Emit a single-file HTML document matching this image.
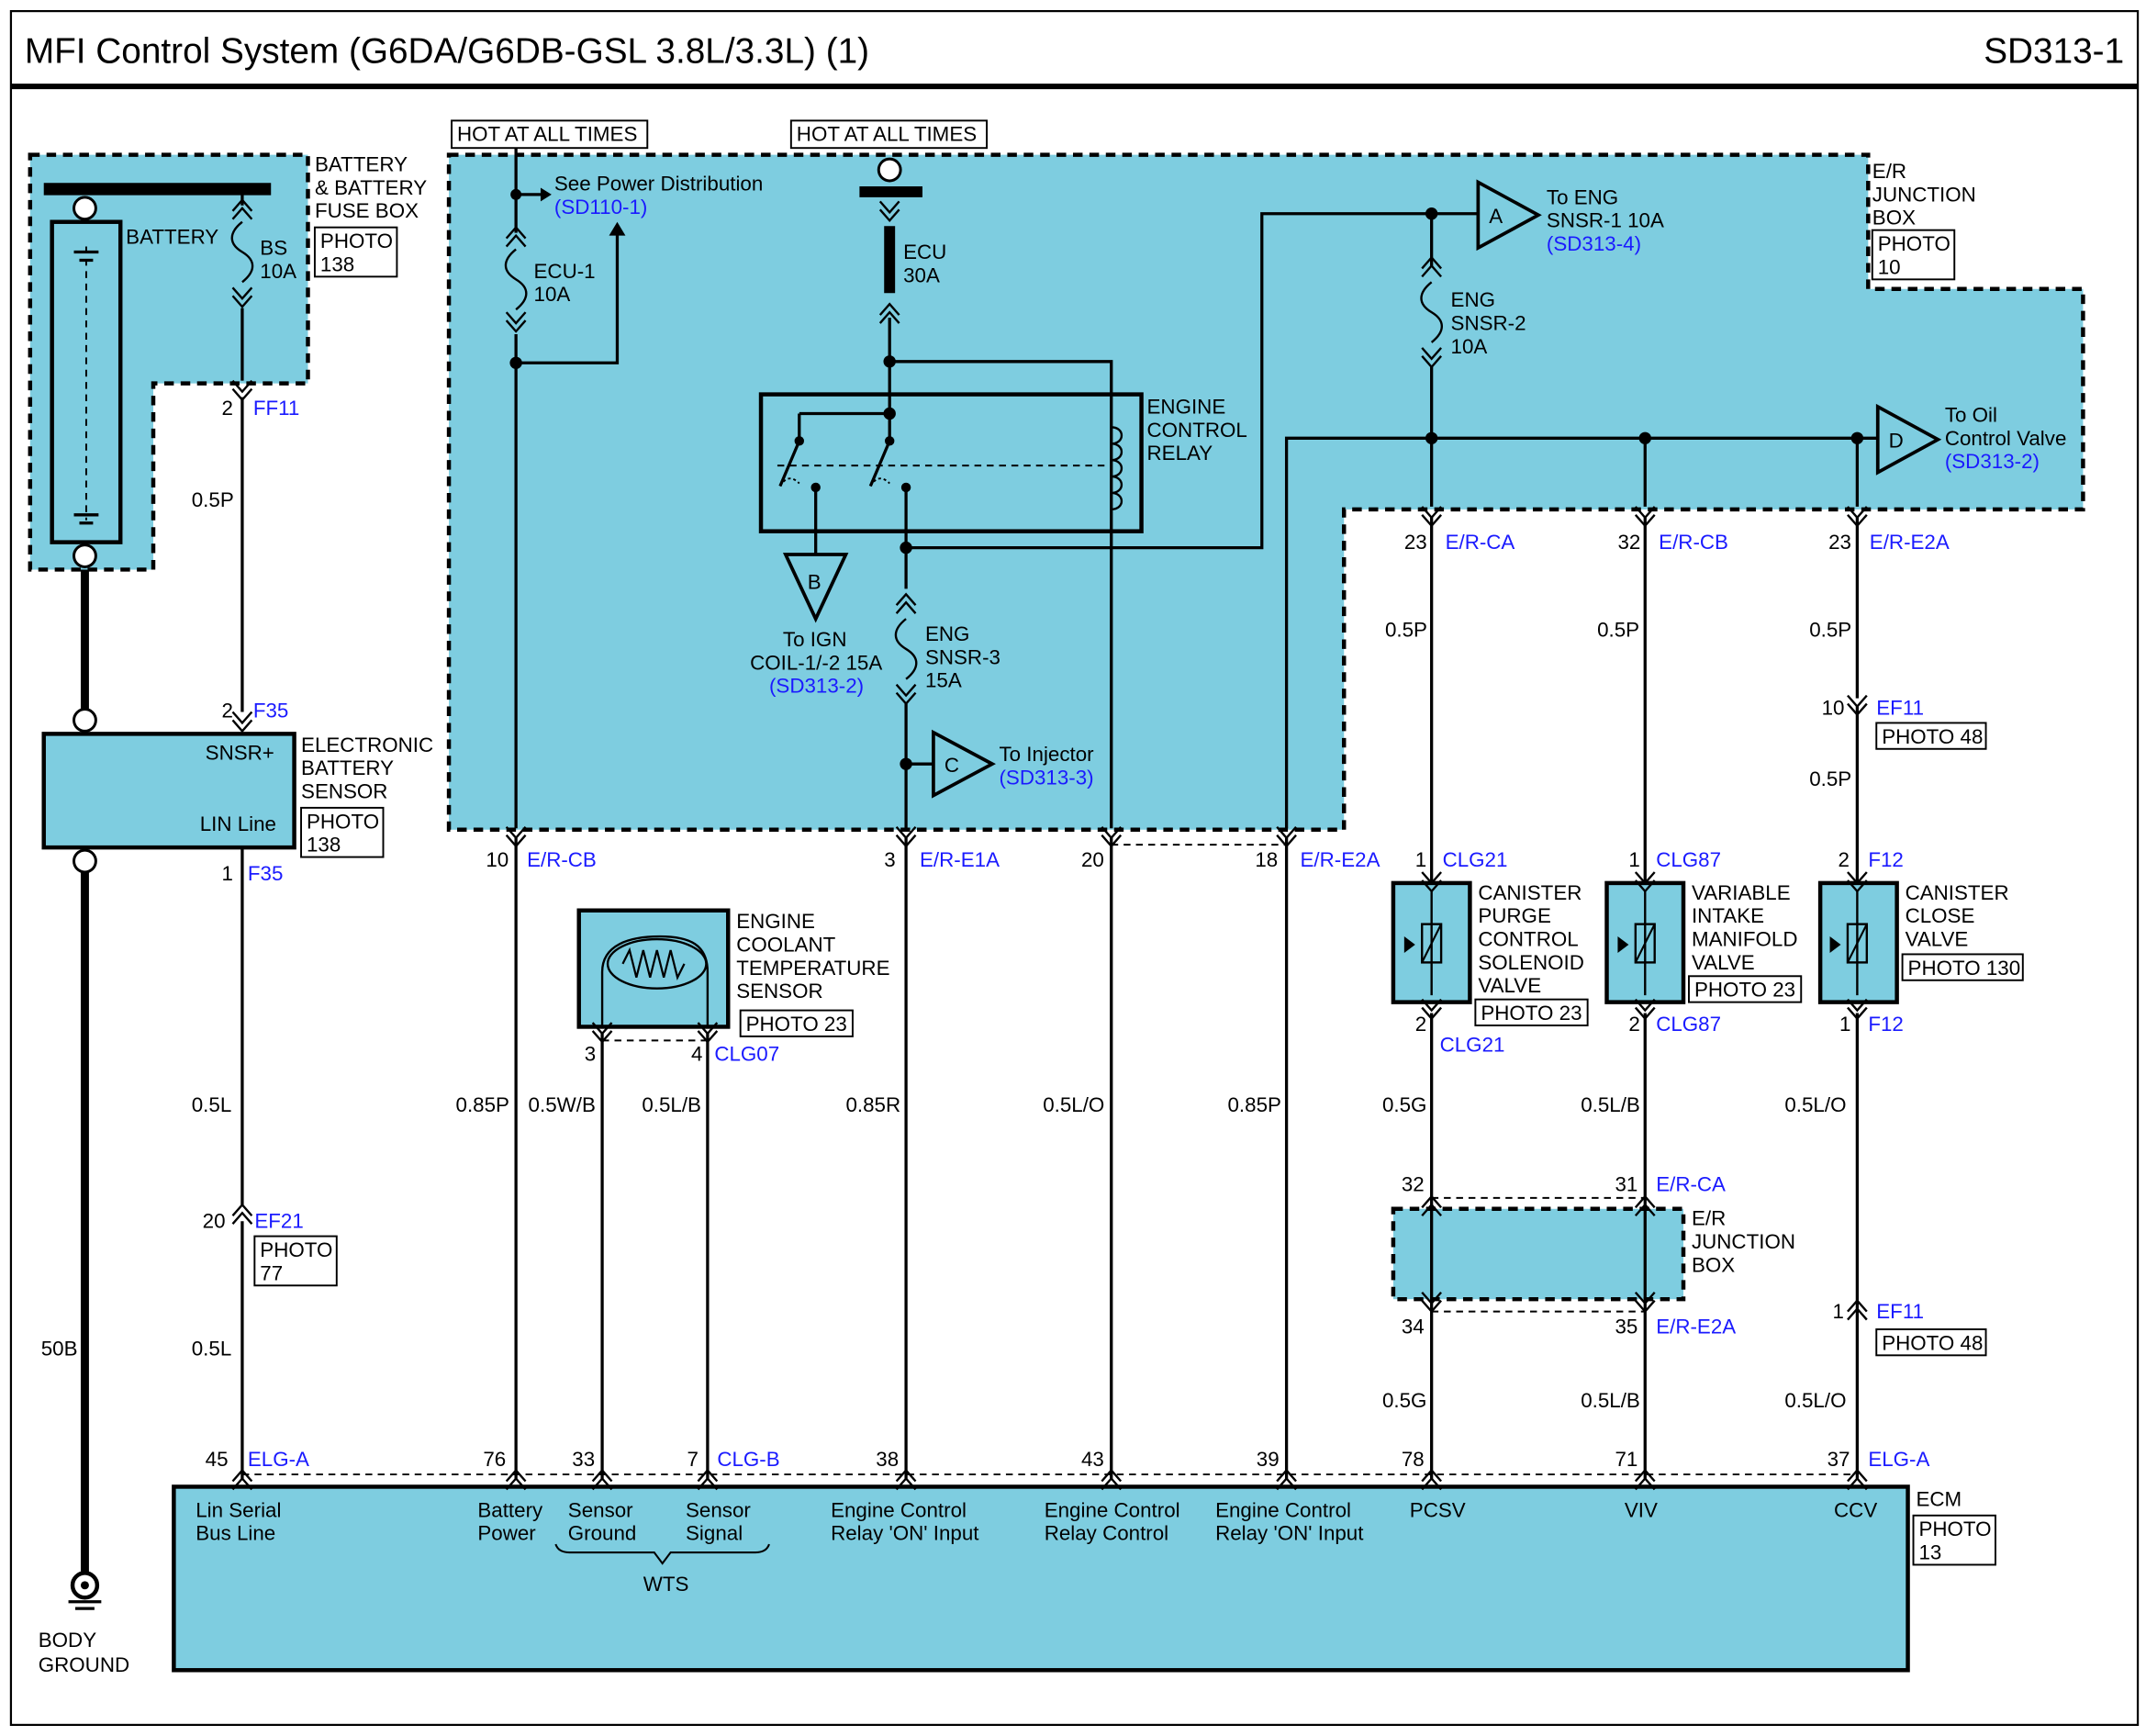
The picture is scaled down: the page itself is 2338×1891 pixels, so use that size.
<!DOCTYPE html>
<html><head><meta charset="utf-8"><style>
html,body{margin:0;padding:0;background:#fff}
svg{display:block}
text{font-family:"Liberation Sans",Arial,sans-serif;font-size:15px;fill:#000}
.b{fill:#1a1aff}
.w{stroke:#000;stroke-width:2.2;fill:none}
.d{stroke:#000;stroke-width:1.3;fill:none;stroke-dasharray:5,4}
.sh{fill:#7ecde0;stroke:#000;stroke-width:3;stroke-dasharray:7,5}
.bx{fill:#7ecde0;stroke:#000;stroke-width:3}
.lb{fill:#fff;stroke:#000;stroke-width:1.3}
</style></head><body>
<svg width="2338" height="1891" viewBox="0 0 1568 1268" xmlns="http://www.w3.org/2000/svg">
<defs>
<g id="vd"><path d="M-7,-8 L0,0 L7,-8 M-7,-2 L0,6 L7,-2" class="w" style="stroke-width:1.6"/></g>
<g id="vu"><path d="M-7,8 L0,0 L7,8 M-7,2 L0,-6 L7,2" class="w" style="stroke-width:1.6"/></g>
<g id="fuse"><path d="M0,0 C-10,8 -10,16 0,22 C10,28 10,36 0,44" class="w" style="stroke-width:1.6"/></g>
</defs>
<rect x="8" y="8" width="1554" height="1252" fill="#fff" stroke="#000" stroke-width="1.5"/>
<text x="18" y="46" style="font-size:26px">MFI Control System (G6DA/G6DB-GSL 3.8L/3.3L) (1)</text>
<text x="1552" y="46" text-anchor="end" style="font-size:26px">SD313-1</text>
<line x1="8" y1="63" x2="1562" y2="63" stroke="#000" stroke-width="4"/>

<!-- shaded areas -->
<path class="sh" d="M22,113 H225 V280 H112 V416 H22 Z"/>
<path class="sh" d="M328,113 H1365 V211 H1522 V372 H982 V606 H328 Z"/>
<rect class="sh" x="1018" y="883" width="212" height="66"/>
<rect class="bx" x="32" y="536" width="183" height="83"/>
<rect class="bx" x="127" y="1086" width="1267" height="134"/>
<rect class="bx" x="423" y="665" width="109" height="85"/>
<rect class="bx" x="1018" y="645" width="56" height="87"/>
<rect class="bx" x="1174" y="645" width="56" height="87"/>
<rect class="bx" x="1330" y="645" width="56" height="87"/>

<!-- battery -->
<line x1="32" y1="138" x2="198" y2="138" stroke="#000" stroke-width="9"/>
<rect x="38" y="162" width="50" height="234" fill="none" stroke="#000" stroke-width="3"/>
<line x1="63" y1="180" x2="63" y2="380" class="d"/>
<line x1="54" y1="184" x2="72" y2="184" class="w"/><line x1="58" y1="190" x2="68" y2="190" class="w"/>
<line x1="54" y1="376" x2="72" y2="376" class="w"/><line x1="58" y1="382" x2="68" y2="382" class="w"/>
<circle cx="62" cy="152" r="8" fill="#fff" stroke="#000" stroke-width="2"/>
<circle cx="62" cy="406" r="8" fill="#fff" stroke="#000" stroke-width="2"/>
<line x1="62" y1="416" x2="62" y2="518" stroke="#000" stroke-width="6"/>
<circle cx="62" cy="526" r="8" fill="#fff" stroke="#000" stroke-width="2"/>
<circle cx="62" cy="629" r="8" fill="#fff" stroke="#000" stroke-width="2"/>
<line x1="62" y1="637" x2="62" y2="1150" stroke="#000" stroke-width="6"/>
<circle cx="62" cy="1158" r="9" fill="#fff" stroke="#000" stroke-width="3"/><circle cx="62" cy="1158" r="3"/>
<line x1="50" y1="1170" x2="74" y2="1170" class="w"/><line x1="55" y1="1175" x2="69" y2="1175" class="w"/>
<text x="28" y="1203">BODY</text><text x="28" y="1221">GROUND</text>
<text x="30" y="990">50B</text>
<text x="92" y="178">BATTERY</text>
<text x="230" y="125">BATTERY</text><text x="230" y="142">&amp; BATTERY</text><text x="230" y="159">FUSE BOX</text>
<rect class="lb" x="230" y="166" width="60" height="36"/><text x="234" y="181">PHOTO</text><text x="234" y="198">138</text>

<!-- BS fuse line x=177 -->
<line x1="177" y1="138" x2="177" y2="150" class="w"/>
<use href="#vu" x="177" y="152"/>
<use href="#fuse" x="177" y="162"/>
<use href="#vd" x="177" y="218"/>
<line x1="177" y1="225" x2="177" y2="278" class="w"/>
<text x="190" y="186">BS</text><text x="190" y="203">10A</text>
<use href="#vd" x="177" y="286"/>
<line x1="177" y1="290" x2="177" y2="520" class="w"/>
<text x="162" y="303">2</text><text x="185" y="303" class="b">FF11</text>
<text x="140" y="370">0.5P</text>
<use href="#vd" x="177" y="528"/>
<text x="162" y="524">2</text><text x="185" y="524" class="b">F35</text>
<text x="150" y="555">SNSR+</text><text x="146" y="607">LIN Line</text>
<text x="220" y="549">ELECTRONIC</text><text x="220" y="566">BATTERY</text><text x="220" y="583">SENSOR</text>
<rect class="lb" x="220" y="590" width="60" height="36"/><text x="224" y="605">PHOTO</text><text x="224" y="622">138</text>
<line x1="177" y1="619" x2="177" y2="880" class="w"/>
<text x="162" y="643">1</text><text x="181" y="643" class="b">F35</text>
<text x="140" y="812">0.5L</text>
<use href="#vu" x="177" y="886"/>
<line x1="177" y1="892" x2="177" y2="1080" class="w"/>
<text x="148" y="897">20</text><text x="186" y="897" class="b">EF21</text>
<rect class="lb" x="186" y="903" width="60" height="36"/><text x="190" y="918">PHOTO</text><text x="190" y="935">77</text>
<text x="140" y="990">0.5L</text>
<use href="#vu" x="177" y="1080"/>
<text x="150" y="1071">45</text><text x="181" y="1071" class="b">ELG-A</text>

<!-- hot at all times -->
<rect class="lb" x="330" y="88" width="143" height="20"/><text x="334" y="103">HOT AT ALL TIMES</text>
<rect class="lb" x="578" y="88" width="143" height="20"/><text x="582" y="103">HOT AT ALL TIMES</text>

<!-- ECU-1 line x=377 -->
<line x1="377" y1="108" x2="377" y2="170" class="w"/>
<circle cx="377" cy="142" r="4"/>
<line x1="377" y1="142" x2="395" y2="142" class="w"/><path d="M395,137 L403,142 L395,147Z"/>
<text x="405" y="139">See Power Distribution</text><text x="405" y="156" class="b">(SD110-1)</text>
<use href="#vu" x="377" y="172"/>
<use href="#fuse" x="377" y="182"/>
<use href="#vd" x="377" y="236"/>
<text x="390" y="203">ECU-1</text><text x="390" y="220">10A</text>
<line x1="377" y1="244" x2="377" y2="605" class="w"/>
<circle cx="377" cy="265" r="4.5"/>
<path d="M377,265 H451 V170" class="w"/><path d="M445,172 L451,162 L457,172Z"/>
<use href="#vd" x="377" y="612"/>
<line x1="377" y1="612" x2="377" y2="1080" class="w"/>
<text x="355" y="633">10</text><text x="385" y="633" class="b">E/R-CB</text>
<text x="333" y="812">0.85P</text>
<use href="#vu" x="377" y="1080"/><text x="353" y="1071">76</text>

<!-- ECU 30A x=650 -->
<circle cx="650" cy="124" r="8" fill="#fff" stroke="#000" stroke-width="2"/>
<line x1="628" y1="140" x2="674" y2="140" stroke="#000" stroke-width="8"/>
<use href="#vd" x="650" y="155"/>
<line x1="650" y1="165" x2="650" y2="214" stroke="#000" stroke-width="8"/>
<use href="#vu" x="650" y="228"/>
<text x="660" y="189">ECU</text><text x="660" y="206">30A</text>
<line x1="650" y1="232" x2="650" y2="302" class="w"/>
<circle cx="650" cy="264" r="4.5"/>
<path d="M650,264 H812 V605" class="w"/>
<!-- relay -->
<rect x="556" y="288" width="278" height="100" fill="none" stroke="#000" stroke-width="3"/>
<circle cx="650" cy="302" r="4.5"/>
<path d="M584,302 H650 M584,302 V322 L570,355 M650,302 V322 L636,355" class="w"/>
<circle cx="584" cy="322" r="3.5"/><circle cx="650" cy="322" r="3.5"/>
<circle cx="596" cy="356" r="3.5"/><circle cx="662" cy="356" r="3.5"/>
<path d="M570,355 q6,-10 14,-2 M636,355 q6,-10 14,-2" class="d" style="stroke-dasharray:2,2"/>
<line x1="568" y1="340" x2="810" y2="340" class="d"/>
<path d="M812,312 c10,0 10,12 0,12 c10,0 10,12 0,12 c10,0 10,12 0,12 c10,0 10,12 0,12 c10,0 10,12 0,12" class="w" style="stroke-width:1.6"/>
<text x="838" y="302">ENGINE</text><text x="838" y="319">CONTROL</text><text x="838" y="336">RELAY</text>
<line x1="596" y1="356" x2="596" y2="405" class="w"/>
<path d="M574,405 L618,405 L596,452Z" fill="none" stroke="#000" stroke-width="2.5"/><text x="590" y="430">B</text>
<text x="572" y="472">To IGN</text><text x="548" y="489">COIL-1/-2 15A</text><text x="562" y="506" class="b">(SD313-2)</text>
<line x1="662" y1="356" x2="662" y2="430" class="w"/>
<circle cx="662" cy="400" r="4.5"/>
<path d="M662,400 H922 V156 H1046" class="w"/>
<use href="#vu" x="662" y="440"/>
<use href="#fuse" x="662" y="452"/>
<use href="#vd" x="662" y="508"/>
<text x="676" y="468">ENG</text><text x="676" y="485">SNSR-3</text><text x="676" y="502">15A</text>
<line x1="662" y1="514" x2="662" y2="605" class="w"/>
<circle cx="662" cy="558" r="4.5"/>
<path d="M662,558 H682" class="w"/>
<path d="M682,535 L682,581 L725,558Z" fill="none" stroke="#000" stroke-width="2.5"/><text x="690" y="564">C</text>
<text x="730" y="556">To Injector</text><text x="730" y="573" class="b">(SD313-3)</text>
<use href="#vd" x="662" y="612"/>
<line x1="662" y1="612" x2="662" y2="1080" class="w"/>
<text x="646" y="633">3</text><text x="672" y="633" class="b">E/R-E1A</text>
<text x="618" y="812">0.85R</text>
<use href="#vu" x="662" y="1080"/><text x="640" y="1071">38</text>

<!-- 812 -->
<use href="#vd" x="812" y="612"/>
<line x1="812" y1="612" x2="812" y2="1080" class="w"/>
<line x1="812" y1="617" x2="940" y2="617" class="d"/>
<text x="790" y="633">20</text>
<text x="762" y="812">0.5L/O</text>
<use href="#vu" x="812" y="1080"/><text x="790" y="1071">43</text>

<!-- 940 -->
<path d="M940,605 V320 H1357" class="w"/>
<use href="#vd" x="940" y="612"/>
<line x1="940" y1="612" x2="940" y2="1080" class="w"/>
<text x="917" y="633">18</text><text x="950" y="633" class="b">E/R-E2A</text>
<text x="897" y="812">0.85P</text>
<use href="#vu" x="940" y="1080"/><text x="918" y="1071">39</text>

<!-- A -->
<circle cx="1046" cy="156" r="4.5"/>
<path d="M1046,156 H1080" class="w"/>
<path d="M1080,133 L1080,181 L1124,157Z" fill="none" stroke="#000" stroke-width="2.5"/><text x="1088" y="163">A</text>
<text x="1130" y="149">To ENG</text><text x="1130" y="166">SNSR-1 10A</text><text x="1130" y="183" class="b">(SD313-4)</text>
<text x="1368" y="130">E/R</text><text x="1368" y="147">JUNCTION</text><text x="1368" y="164">BOX</text>
<rect class="lb" x="1368" y="168" width="60" height="36"/><text x="1372" y="183">PHOTO</text><text x="1372" y="200">10</text>
<use href="#vu" x="1046" y="194"/>
<use href="#fuse" x="1046" y="206"/>
<use href="#vd" x="1046" y="262"/>
<text x="1060" y="224">ENG</text><text x="1060" y="241">SNSR-2</text><text x="1060" y="258">10A</text>
<line x1="1046" y1="156" x2="1046" y2="194" class="w"/>
<line x1="1046" y1="268" x2="1046" y2="370" class="w"/>
<circle cx="1046" cy="320" r="4.5"/><circle cx="1202" cy="320" r="4.5"/><circle cx="1357" cy="320" r="4.5"/>
<path d="M1357,320 H1372" class="w"/>
<path d="M1372,297 L1372,345 L1416,321Z" fill="none" stroke="#000" stroke-width="2.5"/><text x="1380" y="327">D</text>
<text x="1421" y="308">To Oil</text><text x="1421" y="325">Control Valve</text><text x="1421" y="342" class="b">(SD313-2)</text>
<line x1="1202" y1="320" x2="1202" y2="370" class="w"/>
<line x1="1357" y1="320" x2="1357" y2="370" class="w"/>

<!-- right wires -->
<g>
<use href="#vd" x="1046" y="378"/><use href="#vd" x="1202" y="378"/><use href="#vd" x="1357" y="378"/>
<line x1="1046" y1="378" x2="1046" y2="645" class="w"/>
<line x1="1202" y1="378" x2="1202" y2="645" class="w"/>
<line x1="1357" y1="378" x2="1357" y2="510" class="w"/>
<text x="1026" y="401">23</text><text x="1056" y="401" class="b">E/R-CA</text>
<text x="1182" y="401">32</text><text x="1212" y="401" class="b">E/R-CB</text>
<text x="1336" y="401">23</text><text x="1366" y="401" class="b">E/R-E2A</text>
<text x="1012" y="465">0.5P</text><text x="1167" y="465">0.5P</text><text x="1322" y="465">0.5P</text>
<use href="#vd" x="1357" y="516"/>
<line x1="1357" y1="516" x2="1357" y2="645" class="w"/>
<text x="1331" y="522">10</text><text x="1371" y="522" class="b">EF11</text>
<rect class="lb" x="1371" y="528" width="80" height="19"/><text x="1375" y="543">PHOTO 48</text>
<text x="1322" y="574">0.5P</text>
<text x="1034" y="633">1</text><text x="1054" y="633" class="b">CLG21</text>
<text x="1190" y="633">1</text><text x="1210" y="633" class="b">CLG87</text>
<text x="1343" y="633">2</text><text x="1365" y="633" class="b">F12</text>
</g>
<!-- valve internals -->
<g id="valve">
<use href="#vd" x="1046" y="645"/>
<line x1="1046" y1="650" x2="1046" y2="727" class="w" style="stroke-width:1.6"/>
<rect x="1039" y="675" width="14" height="28" fill="none" stroke="#000" stroke-width="1.6"/>
<line x1="1039" y1="703" x2="1053" y2="675" class="w" style="stroke-width:1.4"/>
<path d="M1026,684 L1034,690 L1026,696Z"/>
<use href="#vd" x="1046" y="738"/>
</g>
<use href="#valve" x="156"/><use href="#valve" x="311"/>
<text x="1080" y="657">CANISTER</text><text x="1080" y="674">PURGE</text><text x="1080" y="691">CONTROL</text><text x="1080" y="708">SOLENOID</text><text x="1080" y="725">VALVE</text>
<rect class="lb" x="1078" y="730" width="82" height="19"/><text x="1082" y="745">PHOTO 23</text>
<text x="1236" y="657">VARIABLE</text><text x="1236" y="674">INTAKE</text><text x="1236" y="691">MANIFOLD</text><text x="1236" y="708">VALVE</text>
<rect class="lb" x="1234" y="713" width="82" height="19"/><text x="1238" y="728">PHOTO 23</text>
<text x="1392" y="657">CANISTER</text><text x="1392" y="674">CLOSE</text><text x="1392" y="691">VALVE</text>
<rect class="lb" x="1390" y="697" width="88" height="19"/><text x="1394" y="712">PHOTO 130</text>
<text x="1034" y="753">2</text><text x="1190" y="753">2</text><text x="1344" y="753">1</text>
<text x="1052" y="768" class="b">CLG21</text><text x="1210" y="753" class="b">CLG87</text><text x="1365" y="753" class="b">F12</text>
<line x1="1046" y1="740" x2="1046" y2="1080" class="w"/>
<line x1="1202" y1="740" x2="1202" y2="1080" class="w"/>
<line x1="1357" y1="740" x2="1357" y2="1080" class="w"/>
<text x="1010" y="812">0.5G</text><text x="1155" y="812">0.5L/B</text><text x="1304" y="812">0.5L/O</text>
<use href="#vu" x="1046" y="880"/><use href="#vu" x="1202" y="880"/>
<use href="#vd" x="1046" y="952"/><use href="#vd" x="1202" y="952"/>
<line x1="1046" y1="875" x2="1202" y2="875" class="d"/><line x1="1046" y1="958" x2="1202" y2="958" class="d"/>
<text x="1024" y="870">32</text><text x="1180" y="870">31</text><text x="1210" y="870" class="b">E/R-CA</text>
<text x="1024" y="974">34</text><text x="1180" y="974">35</text><text x="1210" y="974" class="b">E/R-E2A</text>
<text x="1236" y="895">E/R</text><text x="1236" y="912">JUNCTION</text><text x="1236" y="929">BOX</text>
<text x="1010" y="1028">0.5G</text><text x="1155" y="1028">0.5L/B</text><text x="1304" y="1028">0.5L/O</text>
<use href="#vu" x="1357" y="956"/>
<text x="1339" y="963">1</text><text x="1371" y="963" class="b">EF11</text>
<rect class="lb" x="1371" y="971" width="80" height="19"/><text x="1375" y="986">PHOTO 48</text>
<use href="#vu" x="1046" y="1080"/><use href="#vu" x="1202" y="1080"/><use href="#vu" x="1357" y="1080"/>
<text x="1024" y="1071">78</text><text x="1180" y="1071">71</text><text x="1335" y="1071">37</text><text x="1365" y="1071" class="b">ELG-A</text>

<!-- coolant sensor -->
<path d="M440,750 V710 M440,710 C440,690 460,684 482,684 C504,684 517,690 517,710 V750" class="w" style="stroke-width:1.6"/>
<ellipse cx="480" cy="704" rx="36" ry="18" fill="none" stroke="#000" stroke-width="1.6"/>
<path d="M455,704 l5,-10 l5,20 l5,-20 l5,20 l5,-20 l5,20 l5,-20 l5,20 l5,-10" class="w" style="stroke-width:1.5"/>
<text x="538" y="678">ENGINE</text><text x="538" y="695">COOLANT</text><text x="538" y="712">TEMPERATURE</text><text x="538" y="729">SENSOR</text>
<rect class="lb" x="541" y="738" width="82" height="19"/><text x="545" y="753">PHOTO 23</text>
<use href="#vd" x="440" y="755"/><use href="#vd" x="517" y="755"/>
<line x1="440" y1="760" x2="517" y2="760" class="d"/>
<text x="427" y="775">3</text><text x="505" y="775">4</text><text x="522" y="775" class="b">CLG07</text>
<line x1="440" y1="755" x2="440" y2="1080" class="w"/><line x1="517" y1="755" x2="517" y2="1080" class="w"/>
<text x="386" y="812">0.5W/B</text><text x="469" y="812">0.5L/B</text>
<use href="#vu" x="440" y="1080"/><use href="#vu" x="517" y="1080"/>
<text x="418" y="1071">33</text><text x="502" y="1071">7</text><text x="524" y="1071" class="b">CLG-B</text>

<!-- ECM dashed top -->
<line x1="177" y1="1077" x2="1357" y2="1077" class="d"/>
<text x="143" y="1108">Lin Serial</text><text x="143" y="1125">Bus Line</text>
<text x="349" y="1108">Battery</text><text x="349" y="1125">Power</text>
<text x="415" y="1108">Sensor</text><text x="415" y="1125">Ground</text>
<text x="501" y="1108">Sensor</text><text x="501" y="1125">Signal</text>
<path d="M406,1128 q2,6 10,6 H478 l6,8 l6,-8 H552 q8,0 10,-6" class="w" style="stroke-width:1.4"/>
<text x="470" y="1162">WTS</text>
<text x="607" y="1108">Engine Control</text><text x="607" y="1125">Relay 'ON' Input</text>
<text x="763" y="1108">Engine Control</text><text x="763" y="1125">Relay Control</text>
<text x="888" y="1108">Engine Control</text><text x="888" y="1125">Relay 'ON' Input</text>
<text x="1030" y="1108">PCSV</text><text x="1187" y="1108">VIV</text><text x="1340" y="1108">CCV</text>
<text x="1400" y="1100">ECM</text>
<rect class="lb" x="1398" y="1107" width="60" height="36"/><text x="1402" y="1122">PHOTO</text><text x="1402" y="1139">13</text>
</svg>
</body></html>
